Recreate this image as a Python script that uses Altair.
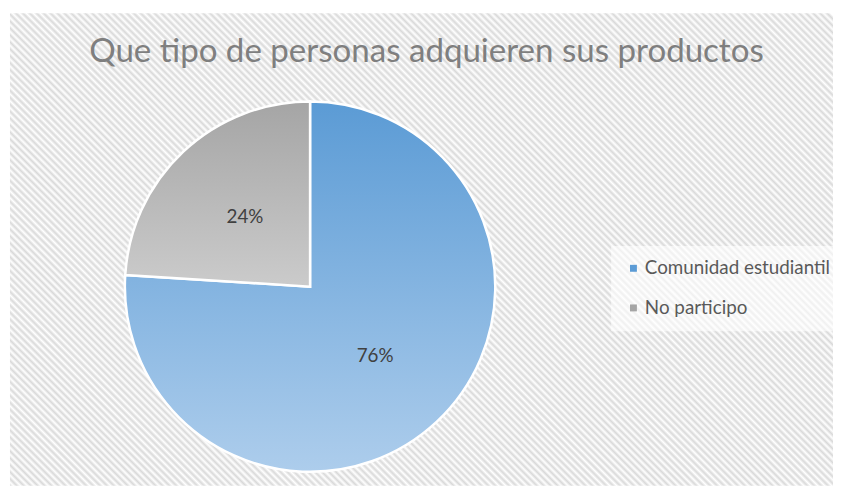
import altair as alt
import pandas as pd

# ---- data ----
categories = ["Comunidad estudiantil", "No participo"]
values = [76, 24]
order_idx = [0, 1]
labels = [f"{v}%" for v in values]

title_text = "Que tipo de personas adquieren sus productos"

# ---- style ----
flat_colors = ["#5B9BD5", "#A5A5A5"]
grad_top = ["#5B9BD5", "#A5A5A5"]
grad_bottom = ["#ADCDEC", "#CBCBCB"]

W, H = 831, 477
CX, CY, R = 303, 276, 187

df = pd.DataFrame({"cat": categories, "value": values, "idx": order_idx, "label": labels})

# diagonal hatch for the background (pure styling)
period = 4.95
L = (W + H) / 2 ** 0.5
stops = []
k = 0
while True:
    o1 = k * period / L
    o2 = (k + 0.5) * period / L
    if o1 > 1:
        break
    stops.append(alt.GradientStop(offset=o1, color="#d9d9d9"))
    if o2 <= 1:
        stops.append(alt.GradientStop(offset=o2, color="#ffffff"))
    k += 1
den = W * W + H * H
x2 = W * (W + H) / den
y2 = 1 - H * (W + H) / den
hatch = alt.LinearGradient(gradient="linear", stops=stops, x1=0, y1=1, x2=x2, y2=y2)


def vgrad(top, bottom):
    return alt.LinearGradient(
        gradient="linear", x1=0, y1=0, x2=0, y2=1,
        stops=[alt.GradientStop(offset=0, color=top), alt.GradientStop(offset=1, color=bottom)],
    )


bg = alt.Chart(pd.DataFrame({"bg": [0]})).mark_rect(fill=hatch, strokeWidth=0).encode(
    x=alt.value(0), x2=alt.value(W), y=alt.value(0), y2=alt.value(H)
)

base = alt.Chart(df).encode(
    theta=alt.Theta("value:Q", stack=True),
    order=alt.Order("idx:Q"),
    x=alt.value(CX),
    y=alt.value(CY),
)

flat = base.mark_arc(radius=R).encode(
    color=alt.Color(
        "cat:N",
        scale=alt.Scale(domain=categories, range=flat_colors),
        legend=alt.Legend(
            title=None,
            orient="none",
            legendX=607,
            legendY=235,
            fillColor="rgba(255,255,255,0.6)",
            padding=13,
            symbolType="square",
            symbolSize=49,
            symbolStrokeWidth=0,
            labelFont="Lato",
            labelFontSize=19,
            labelColor="#595959",
            labelOffset=2,
            labelLimit=400,
            rowPadding=20,
        ),
    )
)

grad = base.mark_arc(radius=R, stroke="white", strokeWidth=2.5).encode(
    fill=alt.condition(
        "datum.idx == 0",
        alt.value(vgrad(grad_top[0], grad_bottom[0])),
        alt.value(vgrad(grad_top[1], grad_bottom[1])),
    )
)

text = base.mark_text(radius=96, font="Lato", fontSize=19, color="#404040").encode(
    text="label:N"
)

chart = (
    alt.layer(bg, flat, grad, text)
    .properties(
        width=W,
        height=H,
        autosize=alt.AutoSizeParams(type="none"),
        padding={"left": 2, "top": 3, "right": 0, "bottom": 0},
        title=alt.TitleParams(
            text=title_text,
            font="Lato",
            fontSize=33.4,
            fontWeight="normal",
            color="#7f7f7f",
            anchor="middle",
            frame="group",
            baseline="alphabetic",
            offset=-83,
            dx=5,
        ),
    )
    .configure_view(stroke="transparent")
)

chart.save("out.html", embed_options={"renderer": "svg", "actions": False})
